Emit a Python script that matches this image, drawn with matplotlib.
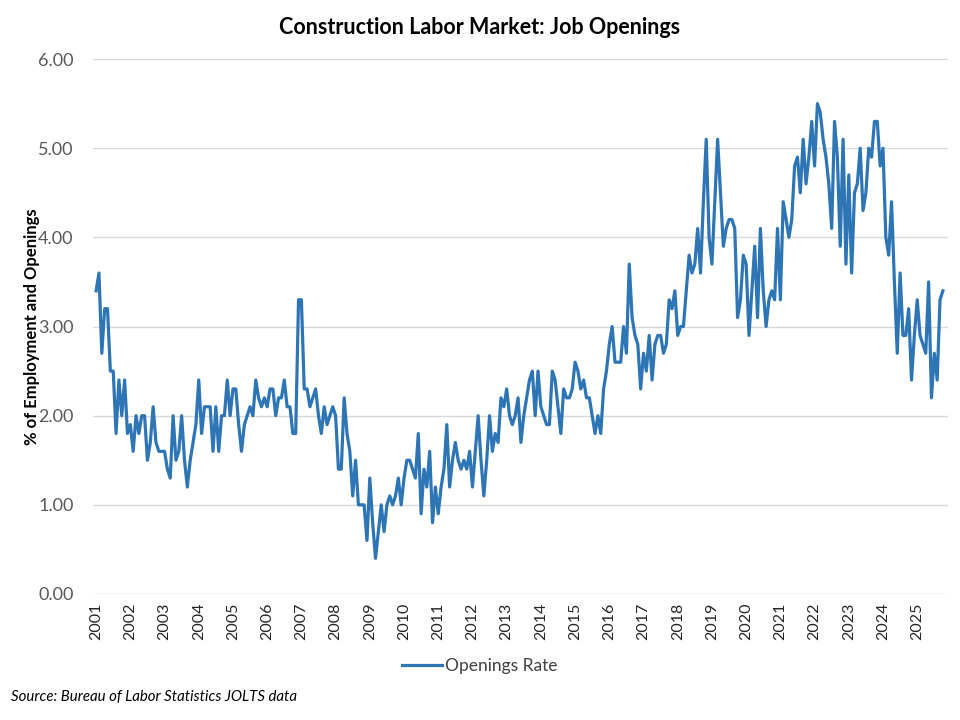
import matplotlib
matplotlib.use("Agg")
import matplotlib.pyplot as plt
import numpy as np

years = list(range(2001, 2026))

rate_2001 = [3.4, 3.6, 2.7, 3.2, 3.2, 2.5, 2.5, 1.8, 2.4, 2.0, 2.4, 1.8]
rate_2002 = [1.9, 1.6, 2.0, 1.8, 2.0, 2.0, 1.5, 1.7, 2.1, 1.7, 1.6, 1.6]
rate_2003 = [1.6, 1.4, 1.3, 2.0, 1.5, 1.6, 2.0, 1.5, 1.2, 1.5, 1.7, 1.9]
rate_2004 = [2.4, 1.8, 2.1, 2.1, 2.1, 1.6, 2.1, 1.6, 2.0, 2.0, 2.4, 2.0]
rate_2005 = [2.3, 2.3, 1.9, 1.6, 1.9, 2.0, 2.1, 2.0, 2.4, 2.2, 2.1, 2.2]
rate_2006 = [2.1, 2.3, 2.3, 2.0, 2.2, 2.2, 2.4, 2.1, 2.1, 1.8, 1.8, 3.3]
rate_2007 = [3.3, 2.3, 2.3, 2.1, 2.2, 2.3, 2.0, 1.8, 2.1, 1.9, 2.0, 2.1]
rate_2008 = [2.0, 1.4, 1.4, 2.2, 1.8, 1.6, 1.1, 1.5, 1.0, 1.0, 1.0, 0.6]
rate_2009 = [1.3, 0.8, 0.4, 0.7, 1.0, 0.7, 1.0, 1.1, 1.0, 1.1, 1.3, 1.0]
rate_2010 = [1.3, 1.5, 1.5, 1.4, 1.3, 1.8, 0.9, 1.4, 1.2, 1.6, 0.8, 1.2]
rate_2011 = [0.9, 1.2, 1.4, 1.9, 1.2, 1.5, 1.7, 1.5, 1.4, 1.5, 1.4, 1.6]
rate_2012 = [1.2, 1.6, 2.0, 1.5, 1.1, 1.5, 2.0, 1.6, 1.8, 1.7, 2.2, 2.1]
rate_2013 = [2.3, 2.0, 1.9, 2.0, 2.2, 1.7, 2.0, 2.2, 2.4, 2.5, 2.0, 2.5]
rate_2014 = [2.1, 2.0, 1.9, 1.9, 2.5, 2.4, 2.1, 1.8, 2.3, 2.2, 2.2, 2.3]
rate_2015 = [2.6, 2.5, 2.3, 2.4, 2.2, 2.2, 2.0, 1.8, 2.0, 1.8, 2.3, 2.5]
rate_2016 = [2.8, 3.0, 2.6, 2.6, 2.6, 3.0, 2.7, 3.7, 3.1, 2.9, 2.8, 2.3]
rate_2017 = [2.7, 2.5, 2.9, 2.4, 2.8, 2.9, 2.9, 2.7, 2.8, 3.3, 3.2, 3.4]
rate_2018 = [2.9, 3.0, 3.0, 3.4, 3.8, 3.6, 3.7, 4.1, 3.6, 4.4, 5.1, 4.0]
rate_2019 = [3.7, 4.4, 5.1, 4.5, 3.9, 4.1, 4.2, 4.2, 4.1, 3.1, 3.3, 3.8]
rate_2020 = [3.7, 2.9, 3.4, 3.9, 3.1, 4.1, 3.4, 3.0, 3.3, 3.4, 3.3, 4.1]
rate_2021 = [3.3, 4.4, 4.2, 4.0, 4.2, 4.8, 4.9, 4.5, 5.1, 4.6, 4.9, 5.3]
rate_2022 = [4.8, 5.5, 5.4, 5.1, 4.9, 4.6, 4.1, 5.3, 4.9, 3.9, 5.1, 3.7]
rate_2023 = [4.7, 3.6, 4.5, 4.6, 5.0, 4.3, 4.5, 5.0, 4.9, 5.3, 5.3, 4.8]
rate_2024 = [5.0, 4.0, 3.8, 4.4, 3.5, 2.7, 3.6, 2.9, 2.9, 3.2, 2.4, 2.9]
rate_2025 = [3.3, 2.9, 2.8, 2.7, 3.5, 2.2, 2.7, 2.4, 3.3, 3.4]

openings_rate = (rate_2001 + rate_2002 + rate_2003 + rate_2004 + rate_2005 +
                 rate_2006 + rate_2007 + rate_2008 + rate_2009 + rate_2010 +
                 rate_2011 + rate_2012 + rate_2013 + rate_2014 + rate_2015 +
                 rate_2016 + rate_2017 + rate_2018 + rate_2019 + rate_2020 +
                 rate_2021 + rate_2022 + rate_2023 + rate_2024 + rate_2025)

plt.rcParams['font.family'] = ['Lato', 'DejaVu Sans']

fig = plt.figure(figsize=(9.6, 7.2), dpi=100)
ax = fig.add_axes([0.097, 0.175, 0.8905, 0.743])

months = np.arange(len(openings_rate))
ax.plot(months, openings_rate, color='#2E75B6', lw=2.3, label='Openings Rate',
        solid_joinstyle='round')

ax.set_xlim(-1.05, 298.8)
ax.set_ylim(0, 6)
ax.set_yticks(np.arange(0, 6.01, 1))
ax.set_yticklabels([f"{v:.2f}" for v in np.arange(0, 6.01, 1)],
                   fontsize=13, color='#595959')
ax.set_xticks([12 * i for i in range(len(years))])
ax.set_xticklabels([str(y) for y in years], rotation=90, fontsize=11.5,
                   color='#262626')
ax.tick_params(axis='both', length=0)
ax.tick_params(axis='y', pad=14)
ax.tick_params(axis='x', pad=6)
ax.grid(axis='y', color='#d9d9d9', lw=1)
ax.set_axisbelow(True)
for s in ax.spines.values():
    s.set_visible(False)

ax.set_ylabel('% of Employment and Openings', fontsize=12, fontweight='bold',
              color='#000000', labelpad=-1)

fig.text(0.5, 0.962, 'Construction Labor Market: Job Openings', ha='center',
         va='center', fontsize=15.5, fontweight='bold', color='#000000')

leg = fig.legend(loc='center', bbox_to_anchor=(0.5, 0.075), frameon=False,
                 fontsize=12.5, handlelength=2.3, handletextpad=0.2)
for t in leg.get_texts():
    t.set_color('#404040')

fig.text(0.011, 0.032, 'Source: Bureau of Labor Statistics JOLTS data',
         ha='left', va='center', fontsize=10.8, style='italic', color='#000000')

fig.savefig('out.png', dpi=100)
